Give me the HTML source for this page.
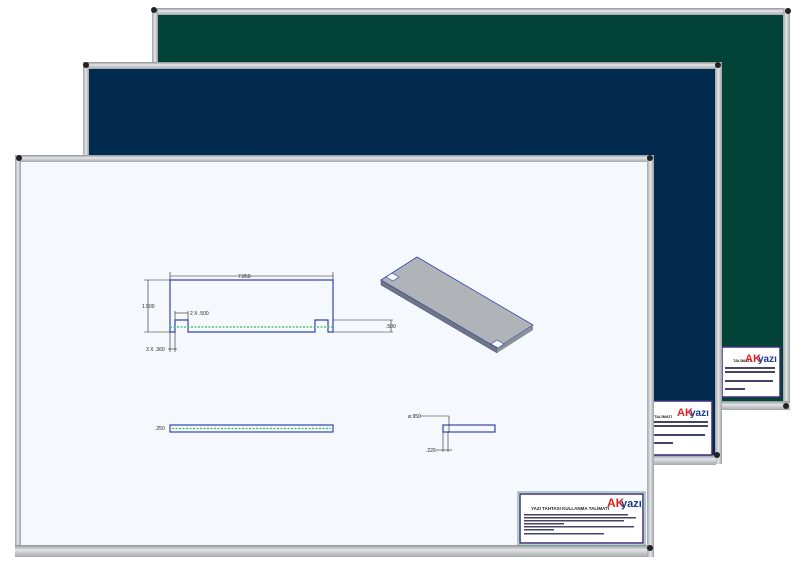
<!DOCTYPE html>
<html><head><meta charset="utf-8"><style>
html,body{margin:0;padding:0;background:#fff;}
svg{display:block;font-family:"Liberation Sans",sans-serif;}
</style></head><body>
<svg width="800" height="578" viewBox="0 0 800 578" xmlns="http://www.w3.org/2000/svg">
<defs>
<linearGradient id="fh" x1="0" y1="0" x2="0" y2="1"><stop offset="0" stop-color="#8e9296"/><stop offset="0.4" stop-color="#e2e4e6"/><stop offset="1" stop-color="#a4a8ac"/></linearGradient>
<linearGradient id="fv" x1="0" y1="0" x2="1" y2="0"><stop offset="0" stop-color="#a0a4a8"/><stop offset="0.5" stop-color="#e4e6e8"/><stop offset="1" stop-color="#9a9ea2"/></linearGradient>
</defs>
<!-- green board -->
<rect x="152" y="8" width="638" height="400" fill="#034236"/>
<rect x="152" y="8" width="638" height="7" fill="url(#fh)"/>
<rect x="152" y="8" width="6" height="400" fill="url(#fv)"/>
<rect x="783" y="8" width="7" height="400" fill="url(#fv)"/>
<rect x="152" y="401" width="638" height="9" fill="url(#fh)"/>
<rect x="722" y="347" width="58" height="50" fill="#fff" stroke="#3a2f7a" stroke-width="1.5"/>
<text x="733" y="362" font-size="4" font-weight="bold" fill="#222">TALİMATI</text>
<text x="745" y="362" font-size="11" font-weight="bold" fill="#e02020">AK</text><text x="758" y="362" font-size="10" font-weight="bold" fill="#1a3a8a">yazı</text>
<rect x="725" y="367" width="50" height="2" fill="#446"/><rect x="725" y="371" width="50" height="2" fill="#446"/><rect x="725" y="380" width="48" height="2" fill="#446"/><rect x="725" y="388" width="20" height="2" fill="#446"/>
<circle cx="154" cy="10" r="3" fill="#222"/><circle cx="788" cy="11" r="3" fill="#222"/><circle cx="786" cy="406" r="3" fill="#222"/>
<!-- blue board -->
<rect x="83" y="62" width="639" height="402" fill="#012a4e"/>
<rect x="83" y="62" width="639" height="7" fill="url(#fh)"/>
<rect x="83" y="62" width="6" height="402" fill="url(#fv)"/>
<rect x="715" y="62" width="7" height="402" fill="url(#fv)"/>
<rect x="83" y="455" width="633" height="10" fill="url(#fh)"/>
<rect x="650" y="401" width="62" height="54" fill="#fff" stroke="#3a2f7a" stroke-width="1.5"/>
<text x="654" y="418" font-size="4" font-weight="bold" fill="#222">TALİMATI</text>
<text x="677" y="416" font-size="11" font-weight="bold" fill="#e02020">AK</text><text x="690" y="416" font-size="10" font-weight="bold" fill="#1a3a8a">yazı</text>
<rect x="653" y="421" width="55" height="2" fill="#446"/><rect x="653" y="425" width="55" height="2" fill="#446"/><rect x="653" y="434" width="52" height="2" fill="#446"/><rect x="653" y="442" width="20" height="2" fill="#446"/>
<circle cx="86" cy="65" r="3" fill="#222"/><circle cx="718" cy="65" r="3" fill="#222"/><circle cx="717" cy="455" r="3" fill="#222"/>
<!-- white board -->
<rect x="15" y="155" width="639" height="402" fill="#f5f9fd"/>
<rect x="15" y="155" width="639" height="7" fill="url(#fh)"/>
<rect x="15" y="155" width="6" height="402" fill="url(#fv)"/>
<rect x="647" y="155" width="7" height="402" fill="url(#fv)"/>
<rect x="15" y="545" width="632" height="12" fill="url(#fh)"/>
<circle cx="19" cy="158" r="3" fill="#222"/><circle cx="650" cy="158" r="3" fill="#222"/><circle cx="650" cy="548" r="3" fill="#222"/>
<rect x="518" y="492" width="127" height="53" fill="#fff" stroke="#6a9a94" stroke-width="1"/>
<rect x="520" y="494" width="123" height="49" fill="#fff" stroke="#3a2f7a" stroke-width="1.5"/>
<text x="531" y="510" font-size="4.5" font-weight="bold" fill="#222">YAZI TAHTASI KULLANMA TALİMATI</text>
<text x="607" y="507" font-size="12" font-weight="bold" fill="#e02020">AK</text><text x="621" y="507" font-size="11" font-weight="bold" fill="#1a3a8a">yazı</text>
<rect x="524" y="514" width="104" height="1.5" fill="#446"/><rect x="524" y="517" width="112" height="1.5" fill="#446"/><rect x="524" y="520" width="100" height="1.5" fill="#446"/><rect x="524" y="523" width="40" height="1.5" fill="#446"/><rect x="524" y="526" width="110" height="1.5" fill="#446"/><rect x="524" y="529" width="30" height="1.5" fill="#446"/><rect x="524" y="533" width="80" height="1.5" fill="#446"/>
<!-- drawing -->
<g fill="none" stroke-width="1.2">
<path d="M170 280 H333 V332 H328 V320 H315 V332 H188 V320 H175 V332 H170 Z" stroke="#3344aa"/>
<line x1="170" y1="327" x2="333" y2="327" stroke="#33bb55" stroke-dasharray="2 1.5"/>
<g stroke="#222" stroke-width="0.6">
<line x1="170" y1="276" x2="333" y2="276"/><line x1="170" y1="272" x2="170" y2="280"/><line x1="333" y1="272" x2="333" y2="280"/>
<line x1="148" y1="280" x2="148" y2="332"/><line x1="144" y1="280" x2="170" y2="280"/><line x1="144" y1="332" x2="170" y2="332"/>
<line x1="333" y1="320" x2="393" y2="320"/><line x1="333" y1="332" x2="393" y2="332"/><line x1="391" y1="320" x2="391" y2="332"/>
<line x1="175" y1="313" x2="188" y2="313"/><line x1="175" y1="311" x2="175" y2="320"/><line x1="188" y1="311" x2="188" y2="320"/>
<line x1="170" y1="332" x2="170" y2="352"/><line x1="175" y1="332" x2="175" y2="352"/><line x1="168" y1="349" x2="177" y2="349"/>
</g>
<rect x="170" y="425" width="163" height="7" stroke="#3344aa"/>
<line x1="172" y1="428.5" x2="331" y2="428.5" stroke="#33bb55" stroke-dasharray="2 1.5"/>
<rect x="443" y="425" width="52" height="7" stroke="#3344aa"/>
<g stroke="#222" stroke-width="0.6"><line x1="420" y1="416" x2="449" y2="416"/><line x1="449" y1="416" x2="449" y2="432"/><line x1="443" y1="432" x2="443" y2="452"/><line x1="448" y1="432" x2="448" y2="452"/><line x1="436" y1="450" x2="452" y2="450"/></g>
</g>
<polygon points="381,280 417,257 533,325 497,348" fill="#b0b3b8" stroke="#3344aa" stroke-width="0.8"/>
<polygon points="381,280 497,348 497,353 381,285" fill="#707680" stroke="#3344aa" stroke-width="0.5"/>
<polygon points="497,348 533,325 533,330 497,353" fill="#8a9098"/>
<polygon points="386,277 393,281 399,277 392,273" fill="#f5f9fd" stroke="#3344aa" stroke-width="0.6"/>
<polygon points="491,344 498,348 504,344 497,340" fill="#f5f9fd" stroke="#3344aa" stroke-width="0.6"/>
<g font-size="5" fill="#222">
<text x="238" y="278">7.850</text><text x="142" y="308">1.500</text><text x="190" y="315">2 X .500</text>
<text x="386" y="328">.500</text><text x="146" y="351">3 X .360</text><text x="155" y="430">.250</text>
<text x="408" y="418">ø.950</text><text x="426" y="452">.226</text></g>
</svg>
</body></html>
